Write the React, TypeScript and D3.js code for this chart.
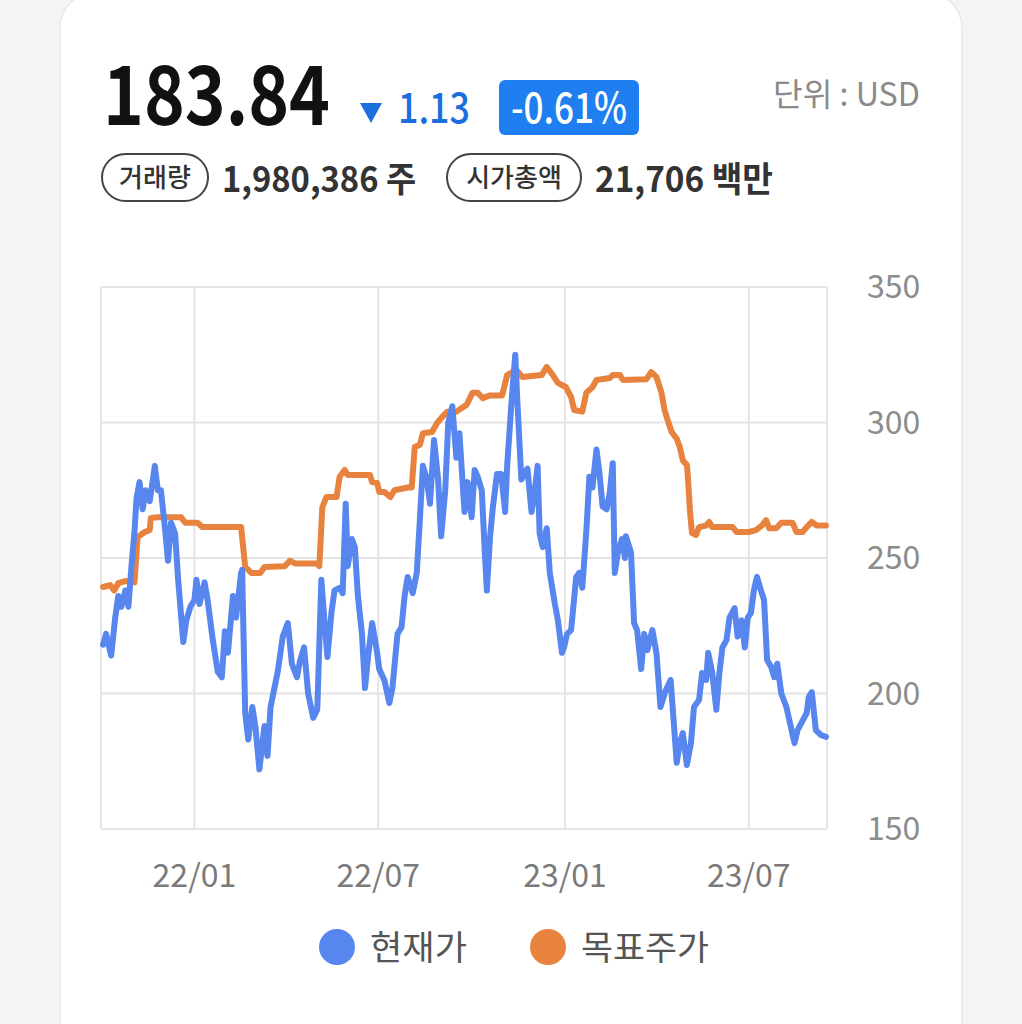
import React from "react";
import * as d3 from "d3";

// 현재가 (current price, USD)
const priceSeries: [string, number][] = [
  ["2021-10-03", 218], ["2021-10-06", 222], ["2021-10-11", 214], ["2021-10-15", 228], ["2021-10-18", 236],
  ["2021-10-21", 232], ["2021-10-25", 238], ["2021-10-28", 232], ["2021-10-31", 247],
  ["2021-11-03", 260], ["2021-11-05", 272], ["2021-11-08", 278], ["2021-11-11", 268], ["2021-11-14", 275],
  ["2021-11-18", 271], ["2021-11-23", 284], ["2021-11-26", 275], ["2021-11-29", 275],
  ["2021-12-03", 261], ["2021-12-06", 249], ["2021-12-09", 263], ["2021-12-13", 259], ["2021-12-16", 242],
  ["2021-12-21", 219], ["2021-12-24", 227], ["2021-12-28", 232],
  ["2022-01-01", 234.5], ["2022-01-03", 242], ["2022-01-06", 233], ["2022-01-11", 241], ["2022-01-14", 234.5],
  ["2022-01-19", 220], ["2022-01-24", 208], ["2022-01-28", 206], ["2022-01-31", 223],
  ["2022-02-03", 215], ["2022-02-08", 236], ["2022-02-11", 228], ["2022-02-16", 244.5], ["2022-02-17", 245.6],
  ["2022-02-20", 193], ["2022-02-23", 183], ["2022-02-27", 195],
  ["2022-03-02", 188], ["2022-03-06", 172], ["2022-03-11", 188], ["2022-03-14", 177], ["2022-03-17", 195],
  ["2022-03-24", 208], ["2022-03-29", 221],
  ["2022-04-03", 226], ["2022-04-07", 211], ["2022-04-12", 206], ["2022-04-15", 212], ["2022-04-19", 217],
  ["2022-04-23", 200], ["2022-04-28", 191],
  ["2022-05-02", 194], ["2022-05-06", 242], ["2022-05-09", 227], ["2022-05-12", 213.5], ["2022-05-16", 230],
  ["2022-05-19", 238], ["2022-05-24", 239], ["2022-05-27", 237], ["2022-05-30", 270],
  ["2022-06-01", 247], ["2022-06-05", 257], ["2022-06-08", 254], ["2022-06-11", 236], ["2022-06-15", 222],
  ["2022-06-18", 202], ["2022-06-21", 213.5], ["2022-06-25", 226], ["2022-06-30", 215],
  ["2022-07-02", 209], ["2022-07-07", 205], ["2022-07-12", 196.5], ["2022-07-15", 202], ["2022-07-20", 222],
  ["2022-07-24", 224.5], ["2022-07-27", 236], ["2022-07-30", 243],
  ["2022-08-04", 237], ["2022-08-08", 244.5], ["2022-08-11", 264], ["2022-08-14", 284], ["2022-08-18", 279],
  ["2022-08-21", 270], ["2022-08-25", 293.5], ["2022-08-29", 279],
  ["2022-09-01", 258], ["2022-09-05", 275], ["2022-09-08", 300], ["2022-09-12", 306], ["2022-09-16", 287],
  ["2022-09-19", 296], ["2022-09-24", 267], ["2022-09-27", 278],
  ["2022-10-01", 265], ["2022-10-04", 282.5], ["2022-10-07", 280], ["2022-10-11", 275], ["2022-10-14", 252],
  ["2022-10-16", 238], ["2022-10-19", 257], ["2022-10-22", 269], ["2022-10-26", 281], ["2022-10-30", 281],
  ["2022-10-31", 278],
  ["2022-11-03", 267], ["2022-11-05", 284], ["2022-11-09", 306], ["2022-11-11", 316], ["2022-11-13", 325],
  ["2022-11-15", 308], ["2022-11-17", 293.5], ["2022-11-19", 279], ["2022-11-22", 281], ["2022-11-25", 283],
  ["2022-11-29", 267],
  ["2022-12-02", 274], ["2022-12-05", 284], ["2022-12-07", 259], ["2022-12-10", 254], ["2022-12-14", 261],
  ["2022-12-17", 244.5], ["2022-12-22", 233], ["2022-12-25", 227], ["2022-12-29", 215], ["2022-12-31", 217],
  ["2023-01-03", 222], ["2023-01-07", 223.4], ["2023-01-12", 243], ["2023-01-15", 244.5], ["2023-01-18", 239],
  ["2023-01-22", 260], ["2023-01-25", 280], ["2023-01-28", 276],
  ["2023-02-01", 290], ["2023-02-04", 281], ["2023-02-07", 269], ["2023-02-11", 268], ["2023-02-14", 274],
  ["2023-02-17", 285], ["2023-02-19", 244.5], ["2023-02-22", 252], ["2023-02-26", 257],
  ["2023-03-01", 250], ["2023-03-02", 258], ["2023-03-07", 252], ["2023-03-10", 226], ["2023-03-13", 223.4],
  ["2023-03-17", 209], ["2023-03-20", 222], ["2023-03-23", 216], ["2023-03-28", 223.4],
  ["2023-04-01", 215], ["2023-04-05", 195], ["2023-04-10", 201], ["2023-04-15", 205], ["2023-04-21", 174.4],
  ["2023-04-24", 181.7], ["2023-04-27", 185.4],
  ["2023-05-01", 173.6], ["2023-05-05", 181.7], ["2023-05-08", 195], ["2023-05-13", 197.6], ["2023-05-16", 207.6],
  ["2023-05-20", 205], ["2023-05-22", 215], ["2023-05-26", 207.6], ["2023-05-30", 194],
  ["2023-06-02", 207.6], ["2023-06-05", 217], ["2023-06-09", 219.7], ["2023-06-12", 228], ["2023-06-17", 231.5],
  ["2023-06-20", 221], ["2023-06-24", 227], ["2023-06-27", 217], ["2023-06-30", 228],
  ["2023-07-03", 229.7], ["2023-07-06", 238], ["2023-07-09", 243], ["2023-07-13", 238], ["2023-07-16", 234.5],
  ["2023-07-19", 212.4], ["2023-07-23", 209.8], ["2023-07-26", 206], ["2023-07-29", 211],
  ["2023-08-02", 200], ["2023-08-07", 195], ["2023-08-10", 190], ["2023-08-15", 181.7], ["2023-08-18", 186.5],
  ["2023-08-23", 190], ["2023-08-27", 192.8], ["2023-08-29", 198.7],
  ["2023-09-01", 200.5], ["2023-09-05", 186.5], ["2023-09-10", 184.7], ["2023-09-15", 184],
];

// 목표주가 (target price, USD)
const targetSeries: [string, number][] = [
  ["2021-10-03", 239.3], ["2021-10-10", 240], ["2021-10-14", 238], ["2021-10-18", 240.7], ["2021-10-25", 241.5],
  ["2021-11-03", 241], ["2021-11-06", 257.7], ["2021-11-13", 259.6], ["2021-11-18", 260.3], ["2021-11-19", 264.8],
  ["2021-11-26", 265], ["2021-12-19", 265], ["2021-12-23", 263],
  ["2022-01-04", 263], ["2022-01-09", 261.4], ["2022-02-16", 261.4], ["2022-02-20", 246.7], ["2022-02-26", 244.5],
  ["2022-03-07", 244.5], ["2022-03-11", 246.7], ["2022-03-31", 247], ["2022-04-05", 249], ["2022-04-10", 248],
  ["2022-05-02", 248], ["2022-05-04", 247], ["2022-05-07", 268.8], ["2022-05-11", 272.5], ["2022-05-21", 272.5],
  ["2022-05-24", 280], ["2022-05-29", 282.5], ["2022-06-01", 280.6], ["2022-06-23", 280.6], ["2022-06-25", 278],
  ["2022-06-30", 277.7], ["2022-07-02", 274.4], ["2022-07-07", 274.4], ["2022-07-13", 272.5], ["2022-07-17", 275],
  ["2022-07-30", 276], ["2022-08-03", 276], ["2022-08-06", 291], ["2022-08-11", 291.7], ["2022-08-14", 296],
  ["2022-08-23", 296.5], ["2022-08-28", 299.8], ["2022-09-01", 301.6], ["2022-09-07", 304], ["2022-09-16", 304],
  ["2022-09-21", 305.3], ["2022-09-26", 306.5], ["2022-10-02", 311], ["2022-10-07", 311], ["2022-10-12", 309],
  ["2022-10-19", 310], ["2022-10-31", 310], ["2022-11-05", 317.5], ["2022-11-14", 319.4], ["2022-11-20", 316.8],
  ["2022-12-09", 317.5], ["2022-12-14", 320.5], ["2022-12-19", 318], ["2022-12-25", 314.6],
  ["2023-01-02", 313], ["2023-01-07", 309.4], ["2023-01-10", 304.6], ["2023-01-18", 304], ["2023-01-22", 311],
  ["2023-01-28", 313], ["2023-02-01", 315.7], ["2023-02-14", 316.4], ["2023-02-17", 317.5], ["2023-02-24", 317.5],
  ["2023-02-27", 315.7], ["2023-03-22", 316], ["2023-03-27", 318.6], ["2023-04-01", 316.8], ["2023-04-06", 311],
  ["2023-04-09", 304.6], ["2023-04-12", 301], ["2023-04-16", 296.5], ["2023-04-21", 294], ["2023-04-24", 291],
  ["2023-04-27", 286], ["2023-05-01", 284.3], ["2023-05-02", 280], ["2023-05-04", 267.7], ["2023-05-06", 259.2],
  ["2023-05-10", 258.5], ["2023-05-13", 261.4], ["2023-05-20", 262], ["2023-05-23", 263.3], ["2023-05-26", 261.4],
  ["2023-06-15", 261.4], ["2023-06-19", 259.6], ["2023-07-01", 259.6], ["2023-07-08", 260.3], ["2023-07-14", 262],
  ["2023-07-18", 264], ["2023-07-21", 261], ["2023-07-28", 261], ["2023-08-02", 263], ["2023-08-13", 263],
  ["2023-08-17", 259.6], ["2023-08-23", 259.6], ["2023-08-27", 261.4], ["2023-09-01", 263.3], ["2023-09-06", 262],
  ["2023-09-15", 262],
];

const yTicks = [150, 200, 250, 300, 350];
const xTickDates = ["2022-01-01", "2022-07-01", "2023-01-01", "2023-07-01"];
const xDomain = ["2021-10-01", "2023-09-16"];
const legendItems = [
  { label: "현재가", color: "#5786ee" },
  { label: "목표주가", color: "#e8833f" },
];
const header = {
  price: "183.84",
  change: "1.13",
  changePct: "-0.61%",
  unit: "단위 : USD",
  volumeLabel: "거래량",
  volume: "1,980,386 주",
  capLabel: "시가총액",
  cap: "21,706 백만",
};

const FONT = "'Noto Sans CJK KR', 'Noto Sans', sans-serif";

export default function App() {
  const parse = d3.timeParse("%Y-%m-%d");
  const fmt = d3.timeFormat("%y/%m");
  const left = 101, right = 827, top = 287, bottom = 829;
  const x = d3.scaleTime().domain(xDomain.map((d) => parse(d)!)).range([left, right]);
  const y = d3.scaleLinear().domain([150, 350]).range([bottom, top]);
  const line = d3
    .line<[string, number]>()
    .x((d) => x(parse(d[0])!))
    .y((d) => y(d[1]));
  const grid = "#e4e4e4";
  const blue = "#1a6fdc";

  return (
    <div style={{ position: "absolute", left: 0, top: 0, width: 1022, height: 1024, background: "#f4f4f4" }}>
      <svg width={1022} height={1024} style={{ display: "block", fontFamily: FONT }}>
        <rect x={60} y={-8} width={902} height={1100} rx={36} fill="#fff" stroke="#e7e7e7" strokeWidth={1.5} />

        {/* header */}
        <text x={103} y={125} fontSize={82} fontWeight={700} fill="#111" textLength={227} lengthAdjust="spacingAndGlyphs">
          {header.price}
        </text>
        <path d="M360,103 L382,103 L371,123 Z" fill={blue} />
        <text x={398} y={123} fontSize={42} fontWeight={500} fill={blue} textLength={72} lengthAdjust="spacingAndGlyphs">
          {header.change}
        </text>
        <rect x={499} y={80} width={140} height={55} rx={6} fill="#1f7ff0" />
        <text x={511} y={123} fontSize={42} fontWeight={500} fill="#fff" textLength={116} lengthAdjust="spacingAndGlyphs">
          {header.changePct}
        </text>
        <text x={920} y={106} fontSize={32} fill="#8a8a8a" textAnchor="end" textLength={147} lengthAdjust="spacingAndGlyphs">
          {header.unit}
        </text>

        <rect x={102} y={154} width={106} height={47} rx={23.5} fill="none" stroke="#444" strokeWidth={2} />
        <text x={155} y={187} fontSize={26} fontWeight={500} fill="#333" textAnchor="middle">{header.volumeLabel}</text>
        <text x={222} y={192} fontSize={35} fontWeight={700} fill="#333" textLength={194} lengthAdjust="spacingAndGlyphs">
          {header.volume}
        </text>
        <rect x={447} y={154} width={134} height={47} rx={23.5} fill="none" stroke="#444" strokeWidth={2} />
        <text x={514} y={187} fontSize={26} fontWeight={500} fill="#333" textAnchor="middle">{header.capLabel}</text>
        <text x={595} y={192} fontSize={35} fontWeight={700} fill="#333" textLength={178} lengthAdjust="spacingAndGlyphs">
          {header.cap}
        </text>

        {/* grid */}
        {yTicks.map((t) => (
          <line key={"gy" + t} x1={left} x2={right} y1={y(t)} y2={y(t)} stroke={grid} strokeWidth={2} />
        ))}
        {xTickDates.map((d) => (
          <line key={"gx" + d} x1={x(parse(d)!)} x2={x(parse(d)!)} y1={top} y2={bottom} stroke={grid} strokeWidth={2} />
        ))}
        <line x1={left} x2={left} y1={top} y2={bottom} stroke={grid} strokeWidth={2} />
        <line x1={right} x2={right} y1={top} y2={bottom} stroke={grid} strokeWidth={2} />

        {/* series */}
        <path d={line(targetSeries) || ""} fill="none" stroke="#e8833f" strokeWidth={6} strokeLinejoin="round" strokeLinecap="round" />
        <path d={line(priceSeries) || ""} fill="none" stroke="#5786ee" strokeWidth={6} strokeLinejoin="round" strokeLinecap="round" />

        {/* axes labels */}
        {yTicks.map((t) => (
          <text key={"ty" + t} x={867} y={y(t) + 11} fontSize={32} fill="#8c8c8c">{t}</text>
        ))}
        {xTickDates.map((d) => (
          <text key={"tx" + d} x={x(parse(d)!)} y={887} fontSize={32} fill="#7a7a7a" textAnchor="middle">
            {fmt(parse(d)!)}
          </text>
        ))}

        {/* legend */}
        {legendItems.map((it, i) => {
          const cx = i === 0 ? 337 : 548;
          const w = i === 0 ? 97 : 128;
          return (
            <g key={it.label}>
              <circle cx={cx} cy={947} r={18} fill={it.color} />
              <text x={cx + 33} y={960} fontSize={34} fill="#555" textLength={w} lengthAdjust="spacingAndGlyphs">
                {it.label}
              </text>
            </g>
          );
        })}
      </svg>
    </div>
  );
}
